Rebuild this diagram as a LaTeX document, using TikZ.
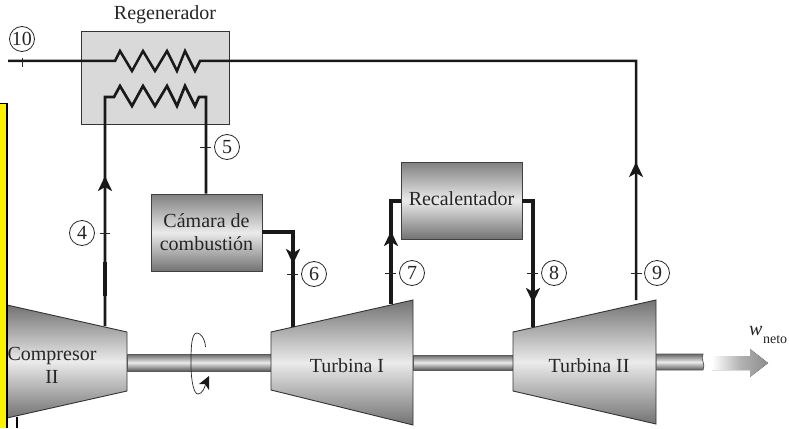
\documentclass[tikz,border=0pt]{standalone}
\usepackage{fontspec}
\setmainfont{Liberation Serif}
\usetikzlibrary{arrows.meta,calc}
\tikzset{
  x=1pt,y=-1pt,
  flow/.style={line width=3.2pt,draw=black!90,line join=miter},
  tip/.style={flow,-{Stealth[length=15pt,width=14pt,inset=4pt]}},
  tick/.style={line width=0.6pt,draw=black!85},
  num/.style={circle,draw=black!85,line width=0.8pt,fill=white,minimum size=25pt,inner sep=0pt,font=\fontsize{20}{20}\selectfont,text=black!85},
  flatbox/.style={draw=black!80,line width=0.8pt,fill=black!15},
  gradbox/.style={draw=black!75,line width=0.9pt,top color=black!50,bottom color=black!55,middle color=black!8,align=center,text=black!85,font=\fontsize{20}{23}\selectfont},
  machine/.style={draw=black!80,line width=0.9pt,top color=black!55,bottom color=black!55,middle color=black!8},
  shaft/.style={draw=black!65,line width=0.8pt,top color=black!60,bottom color=black!65,middle color=black!8},
  lab/.style={text=black!85,font=\fontsize{20}{23}\selectfont,align=center,inner sep=0pt},
}
\begin{document}
\begin{tikzpicture}
\useasboundingbox (0,0) rectangle (789,428);
\fill[white] (0,0) rectangle (789,428);

% --- shafts
\draw[shaft] (127,354) rectangle (271,371);
\draw[shaft] (413,355) rectangle (514,370);
\draw[shaft] (656,354) -- (703,354) .. controls (700,359) and (706,364) .. (703,370) -- (656,370) -- cycle;

% --- machines
\draw[machine] (7,305) -- (127,332) -- (127,391) -- (7,418) -- cycle;
\draw[machine] (271,332) -- (413,300) -- (413,425) -- (271,390) -- cycle;
\draw[machine] (513,332) -- (656,300) -- (656,424) -- (513,391) -- cycle;
\node[lab] (comp) at (52,365) {Compresor\\II};
\node[lab] (turb1) at (347,366) {Turbina I};
\node[lab] (turb2) at (589,366) {Turbina II};

% --- ports on machines
\coordinate (c2out) at (105,326);
\coordinate (t1in) at (293,327);
\coordinate (t1out) at (391,304);
\coordinate (t2in) at (532,327);
\coordinate (t2out) at (635,304);

% --- boxes
\node[flatbox,minimum width=148pt,minimum height=93.5pt,inner sep=0pt] (regen) at (155.5,78) {};
\node[gradbox,minimum width=111pt,minimum height=77pt,inner sep=0pt] (camara) at (206.5,232.5) {Cámara de\\combustión};
\node[gradbox,minimum width=121pt,minimum height=77pt,inner sep=0pt] (recal) at (461.5,200.5) {\raisebox{3pt}{Recalentador}};
\node[lab] (regenlab) at (165,15) {Regenerador};

% --- coils
\coordinate (in10) at (8,61);
\coordinate (in4) at (105,97);
\coordinate (out5) at (206,194);
\draw[flow,line width=2.5pt] (in10) -- (115,61) -- (120,51) -- (132,71) -- (143,51) -- (155,71) -- (167,51) -- (177,71) -- (185,51) -- (195,71) -- (200,61) -- (636,61) -- (636,300);
\draw[flow,line width=2.7pt] (c2out) -- (in4) -- (114,97) -- (120,86) -- (132,106) -- (143,86) -- (155,106) -- (167,86) -- (177,106) -- (185,86) -- (195,106) -- (199,97) -- (206,97) -- (camara.north -| out5);

% --- other connectors
\draw[flow] (camara.east |- 0,232) -- (293,232) -- (t1in);
\draw[flow] (t1out) -- (391,201) -- (recal.west |- 0,201);
\draw[flow] (recal.east |- 0,201) -- (533,201) -- (533,327);

% --- thick section and arrowheads
\draw[line width=4.5pt,black!90] (105,262) -- (105,296);
\draw[tip,line width=2.7pt] (105,200) -- (105,176);
\draw[tip] (293,245) -- (293,264);
\draw[tip] (391,256) -- (391,231);
\draw[tip] (533,285) -- (533,303);
\draw[tip,line width=2.5pt] (636,190) -- (636,162);

% --- state numbers
\node[num] (n10) at (22,39) {10};
\node[num] (n4) at (82,233) {4};
\node[num] (n5) at (227,147) {5};
\node[num] (n6) at (314,274) {6};
\node[num] (n7) at (412,273) {7};
\node[num] (n8) at (554,273) {8};
\node[num] (n9) at (657,273) {9};
\draw[tick] (22,58) -- (22,67);
\draw[tick] ($(n4.east)+(5,0)$) -- ++(10,0);
\draw[tick] ($(n5.west)+(-3,0)$) -- ++(-11,0);
\draw[tick] ($(n6.west)+(-3,0)$) -- ++(-11,0);
\draw[tick] ($(n7.west)+(-3,0)$) -- ++(-11,0);
\draw[tick] ($(n8.west)+(-3,0)$) -- ++(-11,0);
\draw[tick] ($(n9.west)+(-2,0)$) -- ++(-11,0);

% --- rotation mark
\draw[line width=0.7pt,black!85] (205.5,347) .. controls (205,338) and (200,333) .. (197,333) .. controls (191,333) and (191,350) .. (191,364) .. controls (191,382) and (194,394) .. (198,394) .. controls (202,394) and (205,388) .. (206,382);
\fill[black!90] (209,376) -- (209,390) -- (205,384) -- (199,384) -- cycle;

% --- work output
\fill[left color=white,right color=black!45,middle color=black!30] (712,356) -- (750,356) -- (750,349) -- (768,363) -- (750,377) -- (750,370) -- (712,370) -- cycle;
\node[text=black!85,inner sep=0pt,anchor=base west] (wneto) at (749,335) {\fontsize{20}{20}\selectfont\itshape w\kern0.5pt\raisebox{-8pt}{\fontsize{14}{14}\selectfont\upshape neto}};

% --- yellow panel over the left edge
\fill[yellow] (0,104) rectangle (6,428);
\draw[line width=1.5pt,black] (0,103.5) -- (7,103.5) -- (7,428);
\draw[line width=1.4pt,black] (17,417) -- (17,428);
\end{tikzpicture}
\end{document}
